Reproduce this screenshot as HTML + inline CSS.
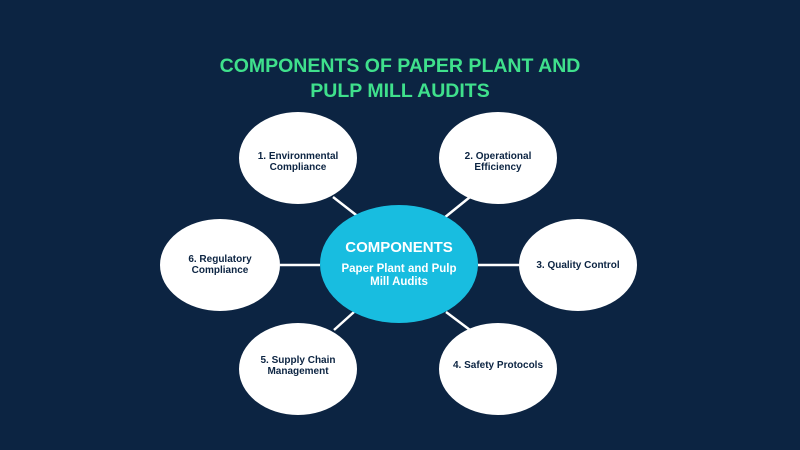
<!DOCTYPE html>
<html><head><meta charset="utf-8"><style>
html,body{margin:0;padding:0;background:#0c2442;}
svg{display:block}
text{font-family:"Liberation Sans",sans-serif;font-weight:bold;}
</style></head><body>
<svg width="800" height="450" viewBox="0 0 800 450">
<rect width="800" height="450" fill="#0c2442"/>
<text x="400" y="72" text-anchor="middle" fill="#3fe08c" font-size="19.5">COMPONENTS OF PAPER PLANT AND</text>
<text x="400" y="97" text-anchor="middle" fill="#3fe08c" font-size="19.5">PULP MILL AUDITS</text>
<g stroke="#ffffff" stroke-width="2.5">
<line x1="333" y1="197" x2="360" y2="218"/>
<line x1="470" y1="197" x2="444" y2="218"/>
<line x1="280" y1="265" x2="320" y2="265"/>
<line x1="478" y1="265" x2="519" y2="265"/>
<line x1="334" y1="330" x2="354" y2="312"/>
<line x1="446" y1="312" x2="470" y2="330"/>
</g>
<g fill="#ffffff">
<ellipse cx="298" cy="158" rx="59" ry="46"/>
<ellipse cx="498" cy="158" rx="59" ry="46"/>
<ellipse cx="220" cy="265" rx="60" ry="46"/>
<ellipse cx="578" cy="265" rx="59" ry="46"/>
<ellipse cx="298" cy="369" rx="59" ry="46"/>
<ellipse cx="498" cy="369" rx="59" ry="46"/>
</g>
<ellipse cx="399" cy="264" rx="79" ry="59" fill="#18bde0"/>
<g fill="#ffffff" text-anchor="middle">
<text x="399" y="252" font-size="15">COMPONENTS</text>
<text x="399" y="272" font-size="11.5">Paper Plant and Pulp</text>
<text x="399" y="285" font-size="11.5">Mill Audits</text>
</g>
<g fill="#0c2442" text-anchor="middle" font-size="10">
<text x="298" y="159">1. Environmental</text>
<text x="298" y="170">Compliance</text>
<text x="498" y="159">2. Operational</text>
<text x="498" y="170">Efficiency</text>
<text x="220" y="262">6. Regulatory</text>
<text x="220" y="273">Compliance</text>
<text x="578" y="268">3. Quality Control</text>
<text x="298" y="363">5. Supply Chain</text>
<text x="298" y="374">Management</text>
<text x="498" y="368">4. Safety Protocols</text>
</g>
</svg>
</body></html>
